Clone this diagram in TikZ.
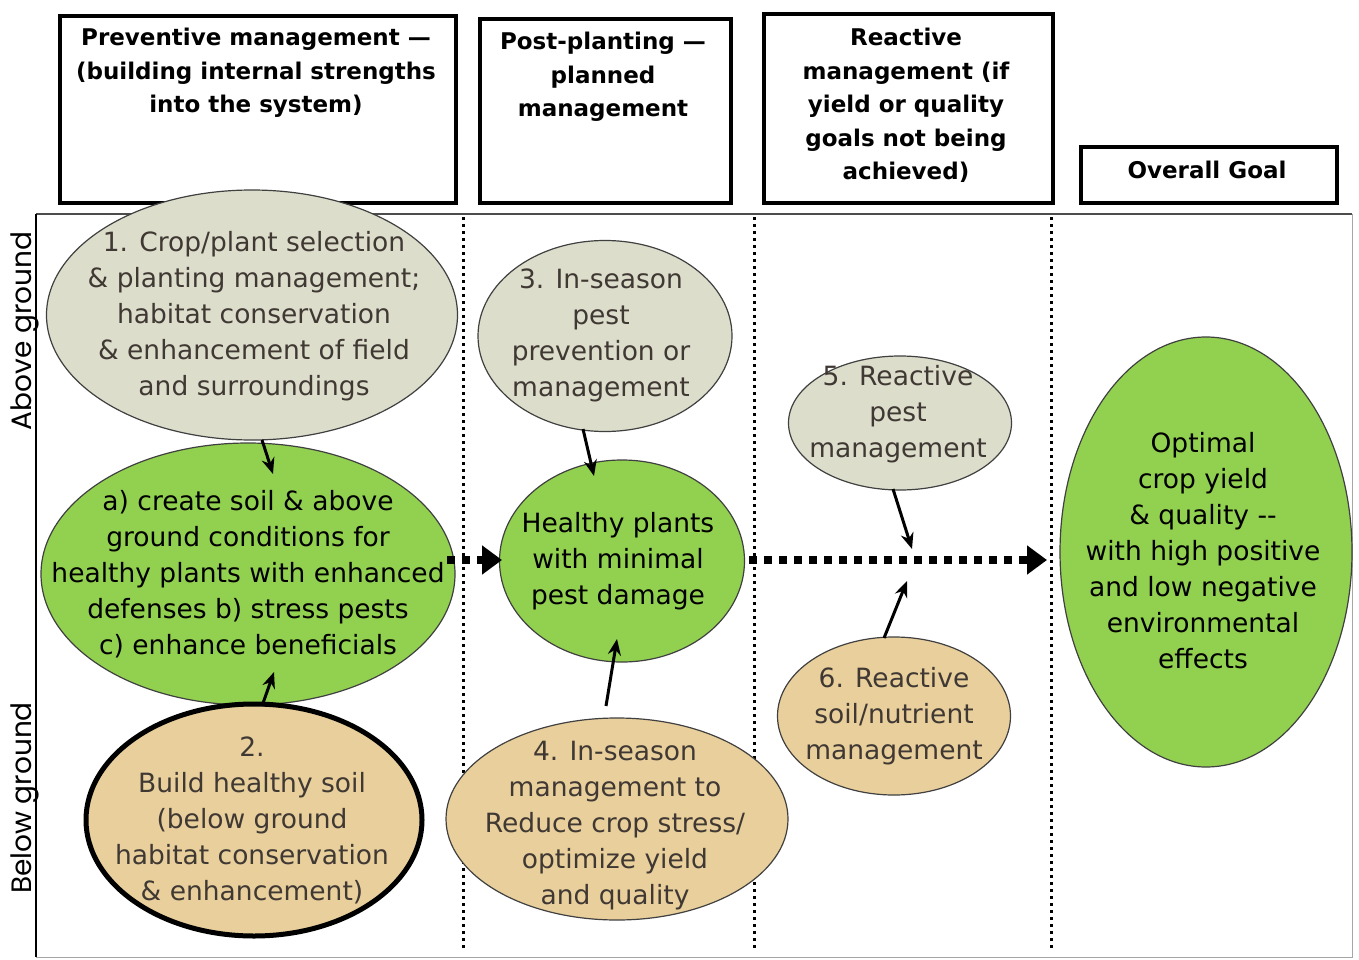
\documentclass[tikz,border=0pt]{standalone}
\usepackage{fontspec}
\setmainfont{DejaVu Sans}
\newfontfamily\sidefont{Poppins}
\usetikzlibrary{shapes.geometric,arrows.meta}
\definecolor{grayfill}{HTML}{DDDDCC}
\definecolor{greenfill}{HTML}{92D050}
\definecolor{tanfill}{HTML}{E8CF9C}
\definecolor{browntext}{HTML}{3F3833}
\definecolor{framegray}{HTML}{A6A6A6}
\tikzset{
  hdr/.style={draw=black, line width=4pt},
  hdrtext/.style={font=\bfseries\fontsize{23}{33.5}\selectfont, align=center, anchor=north, inner sep=0pt},
  ell/.style={ellipse, draw=black!75, line width=1.2pt, inner sep=0pt},
  gr/.style={ell, fill=grayfill},
  gn/.style={ell, fill=greenfill},
  tn/.style={ell, fill=tanfill},
  etext/.style={font=\fontsize{26.5}{36}\selectfont, align=center, inner sep=0pt},
  vdot/.style={line width=3pt, dash pattern=on 3pt off 4pt},
  bigarrow/.style={line width=8pt, dash pattern=on 8pt off 7pt, -{Triangle[length=20pt,width=28pt]}},
  smallarrow/.style={line width=3pt, -{Stealth[length=16pt,width=13pt]}},
  sidetext/.style={font=\sidefont\fontsize{28}{30}\selectfont, rotate=90, inner sep=0pt}
}
\begin{document}
\begin{tikzpicture}[x=1pt,y=-1pt]
\useasboundingbox (0,0) rectangle (1359,960);
% header boxes
\node[hdr, minimum width=396pt, minimum height=187pt, anchor=north west] (h1) at (58,14) {};
\node[hdrtext] (h1t) at (256,28) {Preventive management —\\(building internal strengths\\into the system)};
\node[hdr, minimum width=251pt, minimum height=184pt, anchor=north west] (h2) at (478,17) {};
\node[hdrtext] (h2t) at (603,32) {Post-planting —\\planned\\management};
\node[hdr, minimum width=289pt, minimum height=189pt, anchor=north west] (h3) at (762,12) {};
\node[hdrtext] (h3t) at (906,28) {Reactive\\management (if\\yield or quality\\goals not being\\achieved)};
\node[hdr, minimum width=256pt, minimum height=56pt, anchor=north west] (h4) at (1079,145) {};
\node[font=\bfseries\fontsize{23}{33.5}\selectfont, inner sep=0pt] (h4t) at (1207,170) {Overall Goal};
% frame
\draw[framegray, line width=1pt] (36,214) -- (1352,214) -- (1352,957) -- (36,957);
\draw[black!70, line width=1.2pt] (36,214) -- (1352,214);
\draw[black, line width=2pt] (36,214) -- (36,957);
% dotted separators
\draw[vdot] (463,217) -- (463,950);
\draw[vdot] (754,217) -- (754,950);
\draw[vdot] (1051,217) -- (1051,950);
% side labels
\node[sidetext] (above) at (25,331) {Above ground};
\node[sidetext] (below) at (25,798) {Below ground};
% ellipses
\node[gr, minimum width=411pt, minimum height=250pt] (e1) at (252,315) {};
\node[etext, text=browntext] at (254,316) {1. Crop/plant selection\\\& planting management;\\habitat conservation\\\& enhancement of field\\and surroundings};
\node[gn, minimum width=414pt, minimum height=262pt] (ea) at (248,574) {};
\node[etext] at (248,574) {a) create soil \& above\\ground conditions for\\healthy plants with enhanced\\defenses b) stress pests\\c) enhance beneficials};
\node[tn, draw=black, line width=5pt, minimum width=336pt, minimum height=232pt] (e2) at (254,820) {};
\node[etext, text=browntext] at (252,820) {2.\\Build healthy soil\\(below ground\\habitat conservation\\\& enhancement)};
\node[gr, minimum width=254pt, minimum height=191pt] (e3) at (605,336) {};
\node[etext, text=browntext] at (601,335) {3. In-season\\pest\\prevention or\\management};
\node[gn, minimum width=245pt, minimum height=202pt] (eh) at (622,561) {};
\node[etext] at (618,561) {Healthy plants\\with minimal\\pest damage};
\node[tn, minimum width=342pt, minimum height=202pt] (e4) at (617,819) {};
\node[etext, text=browntext] at (615,826) {4. In-season\\management to\\Reduce crop stress/\\optimize yield\\and quality};
\node[gr, minimum width=223pt, minimum height=134pt] (e5) at (900,423) {};
\node[etext, text=browntext] at (898,414) {5. Reactive\\pest\\management};
\node[tn, minimum width=233pt, minimum height=158pt] (e6) at (894,716) {};
\node[etext, text=browntext] at (894,716) {6. Reactive\\soil/nutrient\\management};
\node[gn, minimum width=292pt, minimum height=430pt] (eo) at (1206,552) {};
\node[etext] at (1203,551) {Optimal\\crop yield\\\& quality {-}{-}\\with high positive\\and low negative\\environmental\\effects};
% connector end points
\coordinate (t1) at (273,474);
\coordinate (t2) at (274,672);
\coordinate (t3) at (594,476);
\coordinate (t4) at (617,639);
\coordinate (t5) at (912,549);
\coordinate (t6) at (907,581);
\coordinate (s1) at (262,440);
\coordinate (s2) at (262,706);
\coordinate (s3) at (583,429);
\coordinate (s4) at (606,706);
\coordinate (s5) at (893,489);
\coordinate (s6) at (884,638);
\coordinate (d1s) at (447,560);
\coordinate (d1e) at (502,560);
\coordinate (d2s) at (749,560);
\coordinate (d2e) at (1047,560);
% arrows
\draw[smallarrow] (s1) -- (t1);
\draw[smallarrow] (s2) -- (t2);
\draw[smallarrow] (s3) -- (t3);
\draw[smallarrow] (s4) -- (t4);
\draw[smallarrow] (s5) -- (t5);
\draw[smallarrow] (s6) -- (t6);
\draw[bigarrow] (d1s) -- (d1e);
\draw[bigarrow] (d2s) -- (d2e);
\end{tikzpicture}
\end{document}
